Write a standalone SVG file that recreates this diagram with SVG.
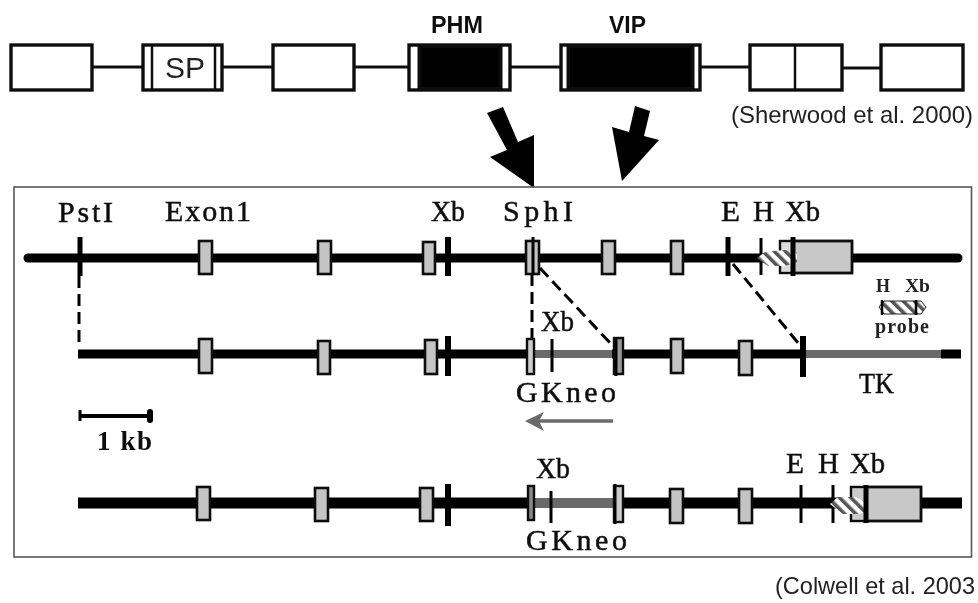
<svg xmlns="http://www.w3.org/2000/svg" width="978" height="603" viewBox="0 0 978 603">
<style>
.box{fill:#fff;stroke:#111;stroke-width:3.4}
.blk{fill:#000;stroke:#111;stroke-width:3}
.in{stroke:#111;stroke-width:2.5;fill:none}
.cl{stroke:#111;stroke-width:3;fill:none}
.dna{stroke:#000;fill:none}
.gry{stroke:#6a6a6a;fill:none}
.ex{fill:#c4c4c4;stroke:#111;stroke-width:2.6}
.tk{stroke:#000;fill:none}
.ds{stroke:#000;stroke-width:3;stroke-dasharray:12 6;fill:none}
.s{font-family:"Liberation Serif",serif;fill:#111;stroke:#111;stroke-width:.5;font-size:30px}
.sb{font-family:"Liberation Serif",serif;fill:#111;font-size:27px;font-weight:bold}
.a{font-family:"Liberation Sans",Arial,sans-serif;fill:#222}
.ab{font-family:"Liberation Sans",Arial,sans-serif;fill:#111;font-weight:bold;font-size:24px}
.p{font-family:"Liberation Serif",serif;fill:#222;font-weight:bold}
</style>
<defs>
<pattern id="h" width="8" height="8" patternUnits="userSpaceOnUse" patternTransform="rotate(-45)">
<rect width="8" height="8" fill="#fff"/><rect width="3.600" height="8" fill="#555"/>
</pattern>
<filter id="soft" x="-2%" y="-2%" width="104%" height="104%"><feGaussianBlur stdDeviation="0.45"/></filter>
</defs>
<rect width="978" height="603" fill="#fff"/>
<g filter="url(#soft)">
<g id="connectors">
<path class="cl" d="M92 67H142M222 67H273M354 67H409M510 67H560M700 67H749M842 68H881"/>
<path class="ds" d="M79 276V344"/>
<path class="ds" d="M532 274V340"/>
<path class="ds" d="M540 268L611 344"/>
<path class="ds" d="M733 264L799 344"/>
</g>
<g id="exon-top-1"><rect class="box" x="11" y="45" width="81" height="45"/></g>
<g id="exon-top-sp"><rect class="box" x="143" y="45" width="79" height="45"/><path class="in" d="M152 45V90M215 45V90"/><text class="a" x="165" y="78" font-size="30" textLength="40" lengthAdjust="spacingAndGlyphs">SP</text></g>
<g id="exon-top-3"><rect class="box" x="273" y="45" width="81" height="45"/></g>
<g id="exon-top-phm"><rect class="box" x="409" y="45" width="101" height="45"/><rect class="blk" x="419" y="46" width="82" height="43"/><text class="ab" x="431" y="33" textLength="52" lengthAdjust="spacingAndGlyphs">PHM</text></g>
<g id="exon-top-vip"><rect class="box" x="561" y="45" width="139" height="45"/><rect class="blk" x="568" y="46" width="125" height="43"/><text class="ab" x="609" y="33" textLength="37" lengthAdjust="spacingAndGlyphs">VIP</text></g>
<g id="exon-top-6"><rect class="box" x="750" y="45" width="92" height="45"/><path class="in" d="M795 45V90"/></g>
<g id="exon-top-7"><rect class="box" x="881" y="45" width="82" height="45"/></g>
<text class="a" x="731" y="123" font-size="24" textLength="242" lengthAdjust="spacingAndGlyphs">(Sherwood et al. 2000)</text>
<g id="arrow-1"><polygon fill="#000" points="487,113 503,107 518,142 534,135 534,188 490,157 507,150"/></g>
<g id="arrow-2"><polygon fill="#000" points="635,106 650,111 644,136 659,140 622,181 612,127 629,132"/></g>
<g id="frame"><rect x="14" y="187" width="957.500" height="370" fill="none" stroke="#555" stroke-width="1.600"/></g>

<g id="line-1">
<path class="dna" stroke-width="9" stroke-linecap="round" d="M28 258H958"/>
<path class="tk" stroke-width="5" d="M80 237V276M728 237V276"/>
<path class="tk" stroke-width="6" d="M448 237V276"/>
<path class="tk" stroke-width="3" d="M761 238V275"/>
<rect class="ex" x="199" y="241" width="13" height="33"/>
<rect class="ex" x="318" y="241" width="13" height="33"/>
<rect class="ex" x="423" y="242" width="12" height="32"/>
<rect class="ex" x="526" y="241" width="13" height="33"/>
<path class="tk" stroke-width="3" d="M533 237V274"/>
<rect class="ex" x="602" y="241" width="13" height="33"/>
<rect class="ex" x="671" y="241" width="12" height="33"/>
<rect x="780" y="241" width="13" height="32" fill="#ddd" stroke="#111" stroke-width="2.400"/>
<rect x="793" y="241" width="59" height="32" fill="#c8c8c8" stroke="#111" stroke-width="2.800"/>
<polygon points="757,258 765,252 785,250 797,253 797,262 785,266 768,266" fill="url(#h)"/>
<path class="tk" stroke-width="5" d="M793 237V276"/>
<text class="s" x="58" y="222" textLength="55">PstI</text>
<text class="s" x="165" y="221" textLength="86">Exon1</text>
<text class="s" x="431" y="221" textLength="34" lengthAdjust="spacingAndGlyphs">Xb</text>
<text class="s" x="503" y="221" textLength="70">SphI</text>
<text class="s" x="721" y="221" textLength="19" lengthAdjust="spacingAndGlyphs">E</text>
<text class="s" x="753" y="221" textLength="21" lengthAdjust="spacingAndGlyphs">H</text>
<text class="s" x="785" y="221" textLength="35" lengthAdjust="spacingAndGlyphs">Xb</text>
</g>

<g id="probe">
<text class="p" x="876" y="292" font-size="18">H</text>
<text class="p" x="905" y="292" font-size="18" textLength="25" lengthAdjust="spacingAndGlyphs">Xb</text>
<polygon points="879,307 884,301 921,301 926,307 921,314 884,314" fill="url(#h)" stroke="#222" stroke-width="1"/>
<path class="tk" stroke-width="2.500" d="M882 300V315M916 300V315"/>
<text class="p" x="875" y="333" font-size="20" textLength="54">probe</text>
</g>

<g id="line-2">
<path class="dna" stroke-width="9" d="M78 354H528M612 354H803M941 354H961"/>
<path class="gry" stroke-width="8" d="M533 354H612M803 354H941"/>
<path class="tk" stroke-width="6" d="M448 336V376"/>
<path class="tk" stroke-width="6" d="M803 336V377"/>
<path class="tk" stroke-width="3" d="M552 339V372"/>
<rect class="ex" x="199" y="339" width="13" height="34"/>
<rect class="ex" x="318" y="341" width="12" height="33"/>
<rect class="ex" x="425" y="340" width="12" height="34"/>
<rect x="527" y="339" width="7" height="35" fill="#ccc" stroke="#111" stroke-width="2.400"/>
<rect x="614" y="338" width="9" height="36" fill="#999" stroke="#111" stroke-width="2.400"/>
<path class="tk" stroke-width="3" d="M616 337V376"/>
<rect class="ex" x="671" y="339" width="12" height="34"/>
<rect class="ex" x="739" y="341" width="13" height="34"/>
<text class="s" x="541" y="331" textLength="33" lengthAdjust="spacingAndGlyphs">Xb</text>
<text class="s" x="516" y="402" textLength="100">GKneo</text>
<text class="s" x="859" y="393" textLength="35" lengthAdjust="spacingAndGlyphs">TK</text>
<g id="neo-arrow"><path class="gry" stroke-width="3.600" d="M530 421H613"/><polygon fill="#6a6a6a" points="525,421 544,412 539,421 544,431"/></g>
</g>

<g id="scale-bar">
<path class="tk" stroke-width="4" d="M80 416H150"/>
<path class="tk" stroke-width="3" d="M80 410V421"/>
<path class="tk" stroke-width="6" stroke-linecap="round" d="M150 412V420"/>
<text class="sb" x="97" y="450" textLength="55">1 kb</text>
</g>

<g id="line-3">
<path class="dna" stroke-width="11" d="M78 503H528M618 503H962"/>
<path class="gry" stroke-width="10" d="M534 503H618"/>
<path class="tk" stroke-width="6" d="M448 484V526"/>
<path class="tk" stroke-width="3" d="M551 491V523M801 485V523M833 485V523"/>
<rect class="ex" x="197" y="487" width="13" height="33"/>
<rect class="ex" x="315" y="488" width="13" height="33"/>
<rect class="ex" x="420" y="488" width="13" height="33"/>
<rect x="528" y="486" width="6" height="34" fill="#888" stroke="#111" stroke-width="2.400"/>
<rect x="614" y="486" width="9" height="36" fill="#ccc" stroke="#111" stroke-width="2.400"/>
<path class="tk" stroke-width="3" d="M615 484V524"/>
<rect class="ex" x="670" y="489" width="13" height="34"/>
<rect class="ex" x="739" y="489" width="13" height="34"/>
<rect x="851" y="487" width="15" height="34" fill="#ccc" stroke="#111" stroke-width="2.400"/>
<rect x="866" y="487" width="55" height="34" fill="#c8c8c8" stroke="#111" stroke-width="2.800"/>
<polygon points="830,504 838,497 855,497 868,503 868,512 858,514 843,514" fill="url(#h)"/>
<path class="tk" stroke-width="5" d="M866 485V523"/>
<text class="s" x="536" y="478" textLength="34" lengthAdjust="spacingAndGlyphs">Xb</text>
<text class="s" x="786" y="473" textLength="18" lengthAdjust="spacingAndGlyphs">E</text>
<text class="s" x="818" y="473" textLength="21" lengthAdjust="spacingAndGlyphs">H</text>
<text class="s" x="850" y="473" textLength="35" lengthAdjust="spacingAndGlyphs">Xb</text>
<text class="s" x="526" y="550" textLength="101">GKneo</text>
</g>
<text class="a" x="775" y="594" font-size="24" textLength="200" lengthAdjust="spacingAndGlyphs">(Colwell et al. 2003</text>
</g>
</svg>
